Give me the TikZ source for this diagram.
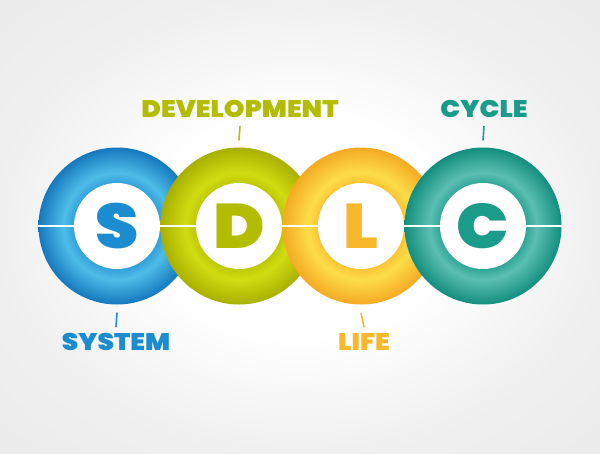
\documentclass[tikz,border=0pt]{standalone}
\usepackage{fontspec}
\setmainfont{Poppins}[BoldFont={Poppins Black}, BoldFeatures={FakeStretch=1.1}]
\usetikzlibrary{positioning}

\definecolor{sysdark}{HTML}{1578BE}
\definecolor{sysmid}{HTML}{2E9AD8}
\definecolor{syslite}{HTML}{4EBDE8}
\definecolor{sysink}{HTML}{1A8CCF}
\definecolor{devdark}{HTML}{A8B000}
\definecolor{devmid}{HTML}{BAC400}
\definecolor{devlite}{HTML}{D2DC12}
\definecolor{devink}{HTML}{B3BD00}
\definecolor{lifedark}{HTML}{F4AA22}
\definecolor{lifemid}{HTML}{F8BF30}
\definecolor{lifelite}{HTML}{FDDD48}
\definecolor{lifeink}{HTML}{F7B82C}
\definecolor{cycdark}{HTML}{138E7E}
\definecolor{cycmid}{HTML}{26A191}
\definecolor{cyclite}{HTML}{5CBFB3}
\definecolor{cycink}{HTML}{1B9B8A}

\pgfdeclareradialshading[litecol,midcol,darkcol]{ringshade}{\pgfpoint{0bp}{0bp}}{%
  color(0bp)=(midcol); color(13bp)=(midcol); color(17bp)=(litecol);
  color(25bp)=(darkcol); color(50bp)=(darkcol)}
\pgfdeclareradialshading{backdrop}{\pgfpoint{0bp}{0bp}}{%
  color(0bp)=(white); color(12bp)=(white); color(25bp)=(black!6); color(50bp)=(black!10)}

\tikzset{
  ring/.style={circle, minimum size=157pt, inner sep=0pt, shading=ringshade},
  hole/.style={circle, minimum size=86pt, inner sep=0pt, fill=white,
    font=\fontsize{63}{63}\selectfont\bfseries},
  word/.style={inner sep=0pt, font=\fontsize{24}{24}\selectfont\bfseries},
  tick/.style={line width=1.6pt}
}

\begin{document}
\begin{tikzpicture}[x=1pt,y=-1pt]
  \useasboundingbox (0,0) rectangle (600,453);
  \shade[shading=backdrop] (0,0) rectangle (600,453);

  \foreach \name/\x/\hue in {S/117/sys, D/239/dev, L/361/life, C/483/cyc}{
    \colorlet{litecol}{\hue lite}
    \colorlet{midcol}{\hue mid}
    \colorlet{darkcol}{\hue dark}
    \node[ring] (ring\name) at (\x,226) {};
    \node[hole, text=\hue ink] (hole\name) at (\x,226) {\name};
  }
  \draw[white, line width=2.4pt] (ringS.west) -- (holeS.west)
    (holeS.east) -- (holeD.west) (holeD.east) -- (holeL.west)
    (holeL.east) -- (holeC.west) (holeC.east) -- (ringC.east);

  % labels
  \node[word, text=devink] (devlabel) at (240,109) {DEVELOPMENT};
  \node[word, text=cycink] (cyclabel) at (484,109) {CYCLE};
  \node[word, text=sysink] (syslabel) at (116,342) {SYSTEM};
  \node[word, text=lifeink] (lifelabel) at (364,342) {LIFE};

  \draw[tick, devink] ([yshift=-8pt]devlabel.south) -- ([yshift=7pt]ringD.north);
  \draw[tick, cycink] ([yshift=-8pt]cyclabel.south) -- ([yshift=7pt]ringC.north);
  \draw[tick, sysink] ([yshift=-8pt]ringS.south) -- ([yshift=6pt]syslabel.north);
  \draw[tick, lifeink] ([yshift=-8pt]ringL.south) -- ([yshift=6pt]lifelabel.north);
\end{tikzpicture}
\end{document}
